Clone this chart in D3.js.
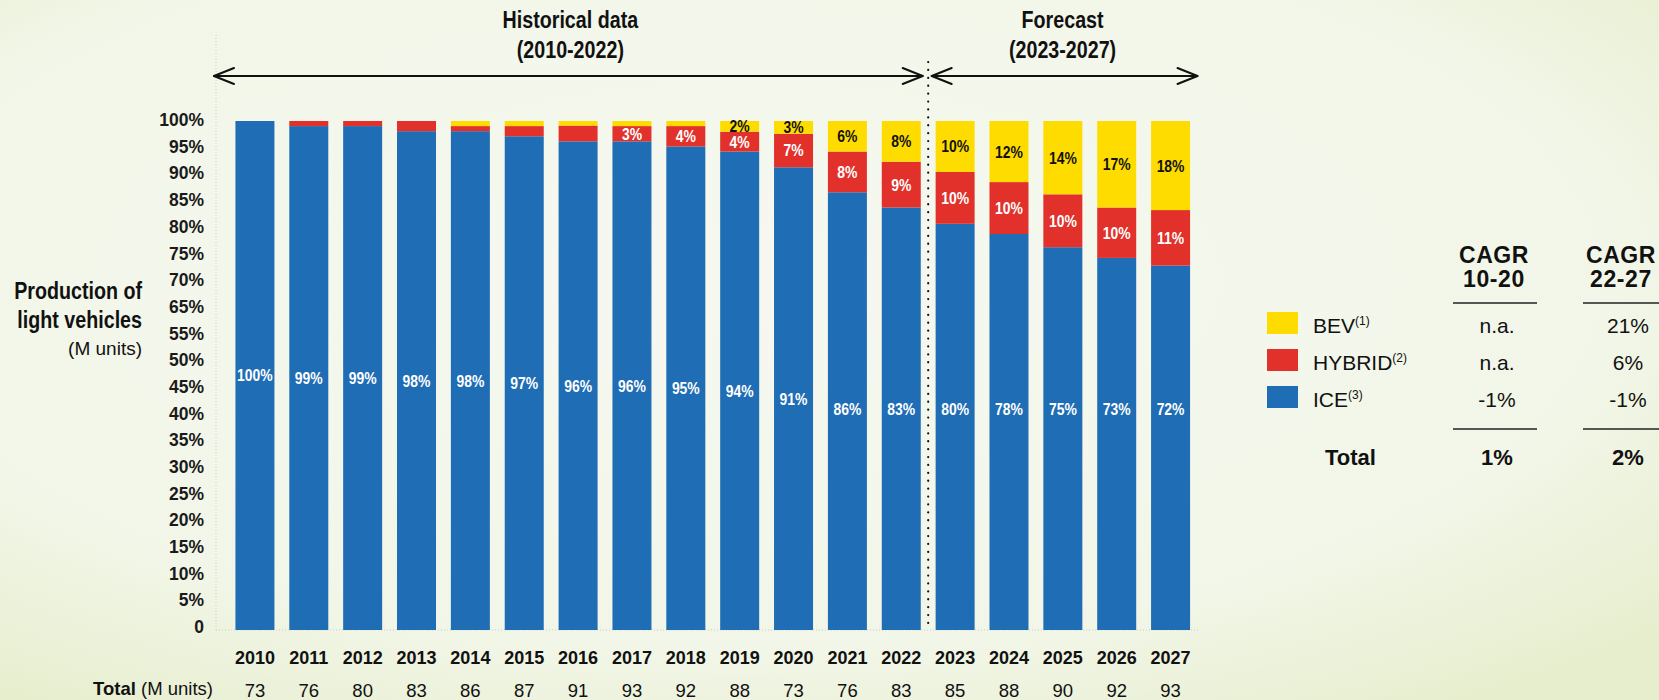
<!DOCTYPE html>
<html>
<head>
<meta charset="utf-8">
<script src="https://cdn.jsdelivr.net/npm/d3@7"></script>
<style>
  html, body { margin: 0; padding: 0; background: #f4f7ec; }
  svg { display: block; }
  .narrow { font-family: 'Liberation Sans', Arial, Helvetica, sans-serif; font-weight: bold; }
  .sans { font-family: 'Liberation Sans', Arial, Helvetica, sans-serif; }
</style>
</head>
<body>
<svg id="chart" width="1659" height="700"></svg>
<script>
// --- data ---
const years = [2010, 2011, 2012, 2013, 2014, 2015, 2016, 2017, 2018,
  2019, 2020, 2021, 2022, 2023, 2024, 2025, 2026, 2027];
const ice = [100, 99, 99, 98, 98, 97, 96, 96, 95, 94, 90.9, 86, 83, 79.8, 77.8, 75.2, 73.1, 71.6];
const hybrid = [0, 1, 1, 2, 1, 2, 3.1, 3, 4, 3.9, 6.6, 8, 9, 10.2, 10.2, 10.4, 9.9, 10.9];
const bev = [0, 0, 0, 0, 1, 1, 0.9, 1, 1, 2.1, 2.5, 6, 8, 10, 12, 14.4, 17, 17.5];
const totals = [73, 76, 80, 83, 86, 87, 91, 93, 92, 88, 73, 76, 83, 85, 88, 90, 92, 93];
const yTickLabels = ['100%', '95%', '90%', '85%', '80%', '75%', '70%', '65%', '55%', '50%',
  '45%', '40%', '35%', '30%', '25%', '20%', '15%', '10%', '5%', '0'];
const hybridLabelFrom = 2017;
const bevLabelFrom = 2019;
const lastHistorical = 2022;

const legendNames = ['BEV', 'HYBRID', 'ICE'];
const legendSups = ['(1)', '(2)', '(3)'];
const cagrHeads = [['CAGR', '10-20'], ['CAGR', '22-27']];
const cagr1020 = ['n.a.', 'n.a.', '-1%'];
const cagr2227 = ['21%', '6%', '-1%'];
const cagrTotals = ['1%', '2%'];

const colors = { ice: '#1f6db5', hybrid: '#e1312a', bev: '#ffdc00' };
const legendColors = [colors.bev, colors.hybrid, colors.ice];

// --- setup ---
const svg = d3.select('#chart');
const W = 1659, H = 700;
const squeeze = 0.82; // condensed look from a regular bold face

const defs = svg.append('defs');
const grad = defs.append('radialGradient').attr('id', 'bg')
  .attr('cx', '45%').attr('cy', '40%').attr('r', '75%');
grad.append('stop').attr('offset', '0%').attr('stop-color', '#f6f8f0');
grad.append('stop').attr('offset', '70%').attr('stop-color', '#f2f6e8');
grad.append('stop').attr('offset', '100%').attr('stop-color', '#e6eecd');
svg.append('rect').attr('width', W).attr('height', H).attr('fill', 'url(#bg)');

// condensed bold text helper
function narrow(parent, tx, ty, str, size, anchor) {
  return parent.append('text').attr('class', 'narrow')
    .attr('transform', `translate(${tx},${ty}) scale(${squeeze},1)`)
    .attr('text-anchor', anchor || 'middle').attr('font-size', size)
    .attr('fill', '#111').text(str);
}

const rows = years.map((year, i) => ({ year, ice: ice[i], hybrid: hybrid[i], bev: bev[i] }));
const keys = ['ice', 'hybrid', 'bev'];
const series = d3.stack().keys(keys)(rows);

const x = d3.scaleBand().domain(years).range([228, 1197.5])
  .paddingInner(0.276).paddingOuter(0.138);
const y = d3.scaleLinear().domain([0, 100]).range([630, 121]);
const yLabel = d3.scalePoint().domain(yTickLabels).range([120, 627]);

const [xLeft, xRight] = x.range();
const divX = (x(lastHistorical) + x.bandwidth() + x(lastHistorical + 1)) / 2;

// faint frame lines
svg.append('line')
  .attr('x1', 216).attr('x2', 216).attr('y1', 35).attr('y2', y(0))
  .attr('stroke', '#c9cbc3').attr('stroke-width', 1).attr('stroke-dasharray', '1,2');
svg.append('line')
  .attr('x1', 216).attr('x2', xRight + 2).attr('y1', y(0)).attr('y2', y(0))
  .attr('stroke', '#c9cbc3').attr('stroke-width', 1).attr('stroke-dasharray', '1,2');

// y axis tick labels
svg.append('g').selectAll('text').data(yTickLabels).join('text')
  .attr('class', 'sans')
  .attr('x', 204).attr('y', d => yLabel(d)).attr('dy', '0.35em')
  .attr('text-anchor', 'end').attr('font-size', 17.5).attr('font-weight', 'bold')
  .attr('fill', '#1a1a1a').text(d => d);

// y title
narrow(svg, 142, 299, 'Production of', 24, 'end');
narrow(svg, 142, 328, 'light vehicles', 24, 'end');
svg.append('text').attr('class', 'sans').attr('x', 142).attr('y', 355)
  .attr('text-anchor', 'end').attr('font-size', 19).attr('fill', '#111').text('(M units)');

// bars
const g = svg.append('g');
g.selectAll('g.layer').data(series).join('g')
  .attr('class', 'layer').attr('fill', d => colors[d.key])
  .selectAll('rect').data(d => d).join('rect')
  .attr('x', d => x(d.data.year))
  .attr('y', d => y(d[1]))
  .attr('width', x.bandwidth())
  .attr('height', d => y(d[0]) - y(d[1]));

// bar value labels
const labels = [];
series.forEach(s => {
  s.forEach(d => {
    const v = d[1] - d[0];
    const yr = d.data.year;
    let show = false, fill = '#fff', cy = (y(d[0]) + y(d[1])) / 2;
    if (s.key === 'ice') { show = true; cy = Math.min(cy, y(43.5)); }
    if (s.key === 'hybrid') show = yr >= hybridLabelFrom;
    if (s.key === 'bev') { show = yr >= bevLabelFrom; fill = '#111'; }
    if (show) labels.push({ x: x(yr) + x.bandwidth() / 2, y: cy, text: Math.round(v) + '%', fill });
  });
});
svg.append('g').selectAll('text').data(labels).join('text')
  .attr('class', 'narrow')
  .attr('transform', d => `translate(${d.x},${d.y}) scale(${squeeze},1)`)
  .attr('dy', '0.35em')
  .attr('text-anchor', 'middle').attr('font-size', 17)
  .attr('fill', d => d.fill).text(d => d.text);

// divider
svg.append('line')
  .attr('x1', divX).attr('x2', divX).attr('y1', 62).attr('y2', y(0))
  .attr('stroke', '#111').attr('stroke-width', 2.2)
  .attr('stroke-dasharray', '0.1,7.8').attr('stroke-linecap', 'round');

// arrows
const arrowY = 76;
function arrow(x1, x2) {
  const a = svg.append('g').attr('fill', 'none').attr('stroke', '#111')
    .attr('stroke-width', 2).attr('stroke-linecap', 'round').attr('stroke-linejoin', 'round');
  a.append('line').attr('x1', x1).attr('x2', x2).attr('y1', arrowY).attr('y2', arrowY);
  a.append('path').attr('d', `M${x1 + 20},${arrowY - 8}L${x1},${arrowY}L${x1 + 20},${arrowY + 8}`);
  a.append('path').attr('d', `M${x2 - 20},${arrowY - 8}L${x2},${arrowY}L${x2 - 20},${arrowY + 8}`);
}
arrow(xLeft - 14, divX - 5.5);
arrow(divX + 3.5, xRight);

// section titles
const hx = (xLeft - 14 + divX - 5.5) / 2 + 2;
const fx = (x(lastHistorical + 1) + xRight) / 2 - 4;
[[hx, 'Historical data', '(2010-2022)'], [fx, 'Forecast', '(2023-2027)']].forEach(([cx, t1, t2]) => {
  narrow(svg, cx, 28, t1, 24);
  narrow(svg, cx, 58, t2, 24);
});

// x axis labels and totals
svg.append('g').selectAll('text').data(years).join('text')
  .attr('class', 'sans')
  .attr('x', d => x(d) + x.bandwidth() / 2).attr('y', 664)
  .attr('text-anchor', 'middle').attr('font-size', 18).attr('font-weight', 'bold')
  .attr('fill', '#111').text(d => d);
svg.append('g').selectAll('text').data(totals).join('text')
  .attr('class', 'sans')
  .attr('x', (d, i) => x(years[i]) + x.bandwidth() / 2).attr('y', 697)
  .attr('text-anchor', 'middle').attr('font-size', 18.5)
  .attr('fill', '#111').text(d => d);
const tl = svg.append('text').attr('class', 'sans').attr('x', 213).attr('y', 695)
  .attr('text-anchor', 'end').attr('font-size', 18.5).attr('fill', '#111');
tl.append('tspan').attr('font-weight', 'bold').text('Total');
tl.append('tspan').text(' (M units)');

// legend + CAGR table
const lg = svg.append('g').attr('class', 'sans').attr('fill', '#111');
const headX = [1494, 1621];
const colX = [1497, 1628];
cagrHeads.forEach((h, c) => {
  lg.append('text').attr('x', headX[c]).attr('y', 263).attr('text-anchor', 'middle')
    .attr('font-size', 23).attr('letter-spacing', 0.6).attr('font-weight', 'bold').text(h[0]);
  lg.append('text').attr('x', headX[c]).attr('y', 287).attr('text-anchor', 'middle')
    .attr('font-size', 23).attr('letter-spacing', 0.6).attr('font-weight', 'bold').text(h[1]);
});
const lineSpans = [[1453, 1537], [1583, 1662]];
[303, 429].forEach(ly => {
  lineSpans.forEach(([a, b]) => {
    lg.append('line').attr('x1', a).attr('x2', b).attr('y1', ly).attr('y2', ly)
      .attr('stroke', '#222').attr('stroke-width', 1.5);
  });
});
legendNames.forEach((name, i) => {
  const base = 333 + i * 37;
  lg.append('rect').attr('x', 1267).attr('y', base - 21).attr('width', 31).attr('height', 22)
    .attr('fill', legendColors[i]);
  const t = lg.append('text').attr('x', 1313).attr('y', base).attr('font-size', 21);
  t.append('tspan').text(name);
  t.append('tspan').attr('font-size', 12).attr('dy', -8).text(legendSups[i]);
  lg.append('text').attr('x', colX[0]).attr('y', base).attr('text-anchor', 'middle')
    .attr('font-size', 21).text(cagr1020[i]);
  lg.append('text').attr('x', colX[1]).attr('y', base).attr('text-anchor', 'middle')
    .attr('font-size', 21).text(cagr2227[i]);
});
lg.append('text').attr('x', 1325).attr('y', 465).attr('font-size', 22)
  .attr('font-weight', 'bold').text('Total');
cagrTotals.forEach((v, c) => {
  lg.append('text').attr('x', colX[c]).attr('y', 465).attr('text-anchor', 'middle')
    .attr('font-size', 22).attr('font-weight', 'bold').text(v);
});
</script>
</body>
</html>
